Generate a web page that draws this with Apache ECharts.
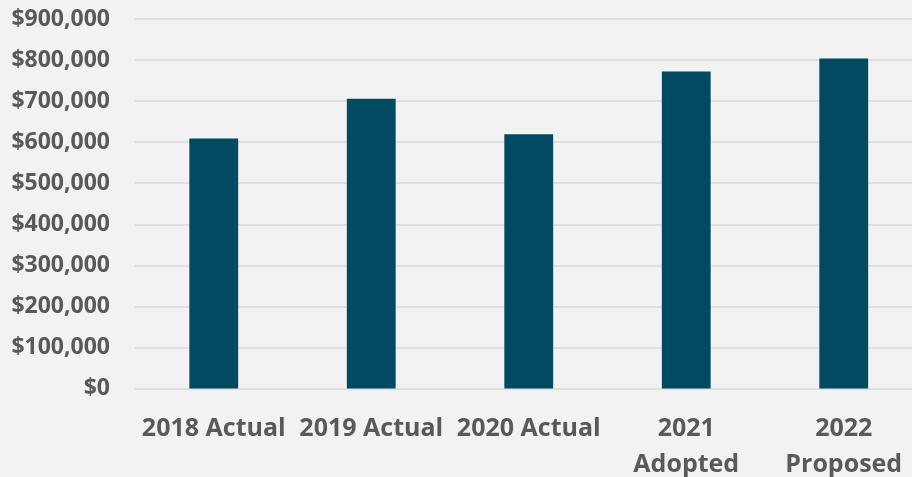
<!DOCTYPE html>
<html>
<head>
<meta charset="utf-8">
<script src="https://cdn.jsdelivr.net/npm/echarts@6/dist/echarts.min.js"></script>
<style>
html,body{margin:0;padding:0;background:#F2F2F2;}
#chart{width:912px;height:477px;}
</style>
</head>
<body>
<div id="chart"></div>
<script>
const categories = ['2018 Actual', '2019 Actual', '2020 Actual', '2021\nAdopted', '2022\nProposed'];
const values = [609000, 706000, 619000, 772000, 804000];
const yTicks = { min: 0, max: 900000, interval: 100000 };

const chart = echarts.init(document.getElementById('chart'), null, { renderer: 'canvas' });
const fontFamily = '"Open Sans", "Noto Sans", sans-serif';
chart.setOption({
  backgroundColor: '#F2F2F2',
  animation: false,
  grid: { left: 135, right: -10.5, top: 19, bottom: 88.5, containLabel: false, outerBoundsMode: 'none' },
  xAxis: {
    type: 'category',
    data: categories,
    axisLine: { show: false },
    axisTick: { show: false },
    axisLabel: {
      interval: 0,
      color: '#595959',
      fontFamily: fontFamily,
      fontWeight: 'bold',
      fontSize: 25,
      lineHeight: 36,
      margin: 22
    }
  },
  yAxis: {
    type: 'value',
    min: yTicks.min,
    max: yTicks.max,
    interval: yTicks.interval,
    axisLine: { show: false },
    axisTick: { show: false },
    splitLine: { lineStyle: { color: '#D9D9D9', width: 1.5 } },
    axisLabel: {
      color: '#595959',
      fontFamily: fontFamily,
      fontWeight: 'bold',
      fontSize: 23,
      margin: 25,
      formatter: v => '$' + v.toLocaleString('en-US')
    }
  },
  series: [{
    type: 'bar',
    data: values,
    barWidth: '31%',
    itemStyle: { color: '#004B63' }
  }]
});
</script>
</body>
</html>
